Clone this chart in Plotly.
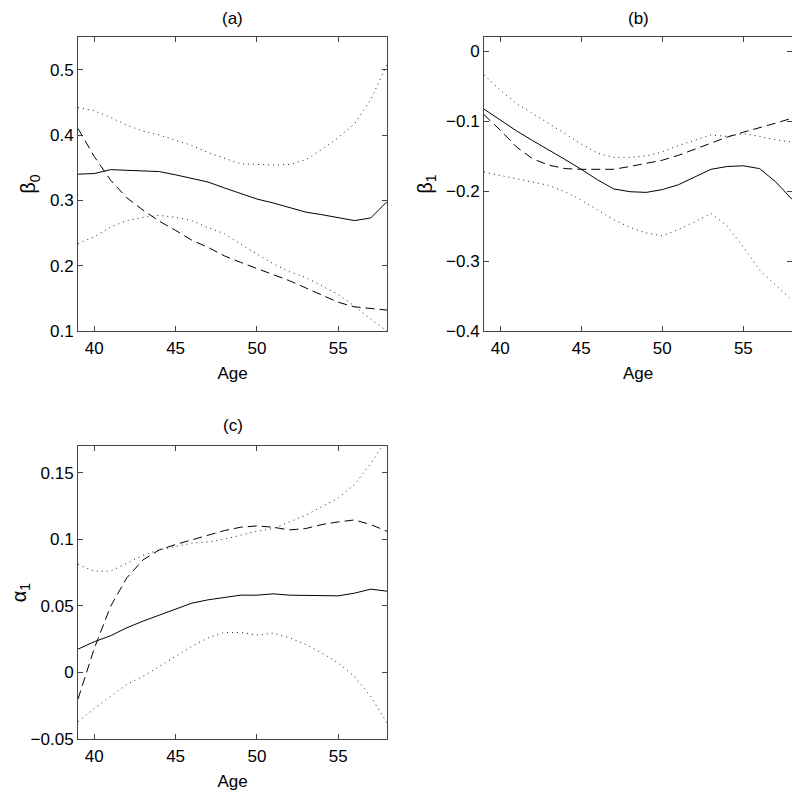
import plotly.graph_objects as go

ages = list(range(39, 59))

# Panel (a): beta_0
a_solid = [0.340, 0.341, 0.347, 0.346, 0.346, 0.344, 0.339, 0.334, 0.328, 0.319,
           0.311, 0.302, 0.296, 0.289, 0.282, 0.278, 0.274, 0.269, 0.273, 0.298]
a_dash = [0.410, 0.367, 0.331, 0.304, 0.285, 0.268, 0.254, 0.239, 0.228, 0.215,
          0.205, 0.196, 0.186, 0.177, 0.166, 0.155, 0.144, 0.137, 0.135, 0.132]
a_upper = [0.442, 0.437, 0.427, 0.415, 0.406, 0.400, 0.392, 0.384, 0.373, 0.364,
           0.356, 0.355, 0.354, 0.355, 0.362, 0.378, 0.396, 0.417, 0.454, 0.508]
a_lower = [0.234, 0.244, 0.259, 0.269, 0.274, 0.277, 0.274, 0.269, 0.258, 0.249,
           0.233, 0.218, 0.203, 0.191, 0.182, 0.169, 0.156, 0.138, 0.118, 0.100]

# Panel (b): beta_1
b_solid = [-0.083, -0.099, -0.114, -0.128, -0.141, -0.155, -0.169, -0.184, -0.197, -0.201,
           -0.202, -0.198, -0.191, -0.180, -0.169, -0.165, -0.164, -0.168, -0.187, -0.212]
b_dash = [-0.091, -0.113, -0.137, -0.154, -0.163, -0.168, -0.169, -0.169, -0.169, -0.165,
          -0.161, -0.156, -0.149, -0.140, -0.132, -0.123, -0.116, -0.110, -0.103, -0.096]
b_upper = [-0.034, -0.056, -0.075, -0.089, -0.103, -0.118, -0.133, -0.146, -0.152, -0.152,
           -0.150, -0.144, -0.135, -0.127, -0.120, -0.122, -0.118, -0.122, -0.127, -0.130]
b_lower = [-0.173, -0.178, -0.182, -0.187, -0.192, -0.201, -0.213, -0.227, -0.241, -0.252,
           -0.260, -0.264, -0.255, -0.244, -0.232, -0.250, -0.280, -0.313, -0.334, -0.356]

# Panel (c): alpha_1
c_solid = [0.0175, 0.023, 0.0275, 0.0335, 0.0385, 0.043, 0.048, 0.052, 0.0545, 0.0565,
           0.058, 0.058, 0.059, 0.058, 0.058, 0.0575, 0.0575, 0.0595, 0.0625, 0.061]
c_dash = [-0.020, 0.018, 0.0495, 0.071, 0.0845, 0.092, 0.096, 0.0995, 0.103, 0.1065,
          0.109, 0.110, 0.109, 0.107, 0.108, 0.111, 0.113, 0.1145, 0.111, 0.106]
c_upper = [0.081, 0.076, 0.076, 0.082, 0.088, 0.092, 0.0945, 0.097, 0.098, 0.100,
           0.103, 0.106, 0.108, 0.113, 0.118, 0.1245, 0.131, 0.141, 0.157, 0.175]
c_lower = [-0.037, -0.027, -0.018, -0.009, -0.003, 0.0045, 0.012, 0.0195, 0.026, 0.030,
           0.030, 0.028, 0.0295, 0.026, 0.021, 0.0145, 0.007, -0.003, -0.018, -0.038]

x_ticks = [40, 45, 50, 55]
a_yticks = [0.1, 0.2, 0.3, 0.4, 0.5]
a_ytext = ["0.1", "0.2", "0.3", "0.4", "0.5"]
b_yticks = [-0.4, -0.3, -0.2, -0.1, 0.0]
b_ytext = ["\u22120.4", "\u22120.3", "\u22120.2", "\u22120.1", "0"]
c_yticks = [-0.05, 0.0, 0.05, 0.1, 0.15]
c_ytext = ["\u22120.05", "0", "0.05", "0.1", "0.15"]

FONT = "Liberation Sans, Arial, sans-serif"
FS = 17

# page body has an 8px margin: size the figure to fit the 800x799 window exactly
W, H, OFF = 784, 783, 8

def px_x(p):
    return (p - OFF) / W

def px_y(p):
    return 1 - (p - OFF) / H

fig = go.Figure()

panels = [
    ("x", "y", a_solid, a_dash, a_upper, a_lower),
    ("x2", "y2", b_solid, b_dash, b_upper, b_lower),
    ("x3", "y3", c_solid, c_dash, c_upper, c_lower),
]
for xa, ya, s, d, u, l in panels:
    for vals, dash, col in [(u, "1px,4px", "#222"), (l, "1px,4px", "#222"),
                            (d, "9px,5px", "black"), (s, "solid", "black")]:
        fig.add_trace(go.Scatter(x=ages, y=vals, mode="lines", xaxis=xa, yaxis=ya,
                                 line=dict(color=col, width=1, dash=dash),
                                 showlegend=False, hoverinfo="skip"))

def xax(domain, anchor):
    return dict(domain=domain, anchor=anchor, range=[39, 58], tickvals=x_ticks,
                automargin=False, ticklabelstandoff=2,
                ticks="inside", ticklen=5, tickcolor="#444", showline=True,
                linecolor="#444", linewidth=1, mirror="ticks", showgrid=False,
                zeroline=False, tickfont=dict(family=FONT, size=FS, color="black"),
                title=dict(text="Age", font=dict(family=FONT, size=FS, color="black"),
                           standoff=9))

def yax(domain, anchor, rng, tv, tt, title):
    return dict(domain=domain, anchor=anchor, range=rng, tickvals=tv, ticktext=tt,
                automargin=False,
                ticks="inside", ticklen=5, tickcolor="#444", showline=True,
                linecolor="#444", linewidth=1, mirror="ticks", showgrid=False,
                zeroline=False, tickfont=dict(family=FONT, size=FS, color="black"),
                title=dict(text=title, font=dict(family=FONT, size=FS + 3, color="black"),
                           standoff=8))

dx_a = [px_x(78), px_x(387)]
dx_b = [px_x(484), px_x(792)]
dy_top = [px_y(331), px_y(37)]
dy_bot = [px_y(739), px_y(446)]

fig.update_layout(
    width=W, height=H,
    margin=dict(l=0, r=0, t=0, b=0),
    paper_bgcolor="white", plot_bgcolor="white",
    xaxis=xax(dx_a, "y"),
    yaxis=yax(dy_top, "x", [0.1, 0.55], a_yticks, a_ytext, "β<sub>0</sub>"),
    xaxis2=xax(dx_b, "y2"),
    yaxis2=yax(dy_top, "x2", [-0.4, 0.02], b_yticks, b_ytext, "β<sub>1</sub>"),
    xaxis3=xax(dx_a, "y3"),
    yaxis3=yax(dy_bot, "x3", [-0.05, 0.17], c_yticks, c_ytext, "α<sub>1</sub>"),
)

for txt, xc, yc in [("(a)", (dx_a[0] + dx_a[1]) / 2, px_y(19)),
                    ("(b)", (dx_b[0] + dx_b[1]) / 2, px_y(19)),
                    ("(c)", (dx_a[0] + dx_a[1]) / 2, px_y(425))]:
    fig.add_annotation(text=txt, x=xc, y=yc, xref="paper", yref="paper",
                       showarrow=False, xanchor="center", yanchor="middle",
                       font=dict(family=FONT, size=FS, color="black"))

fig.write_html("out.html")
